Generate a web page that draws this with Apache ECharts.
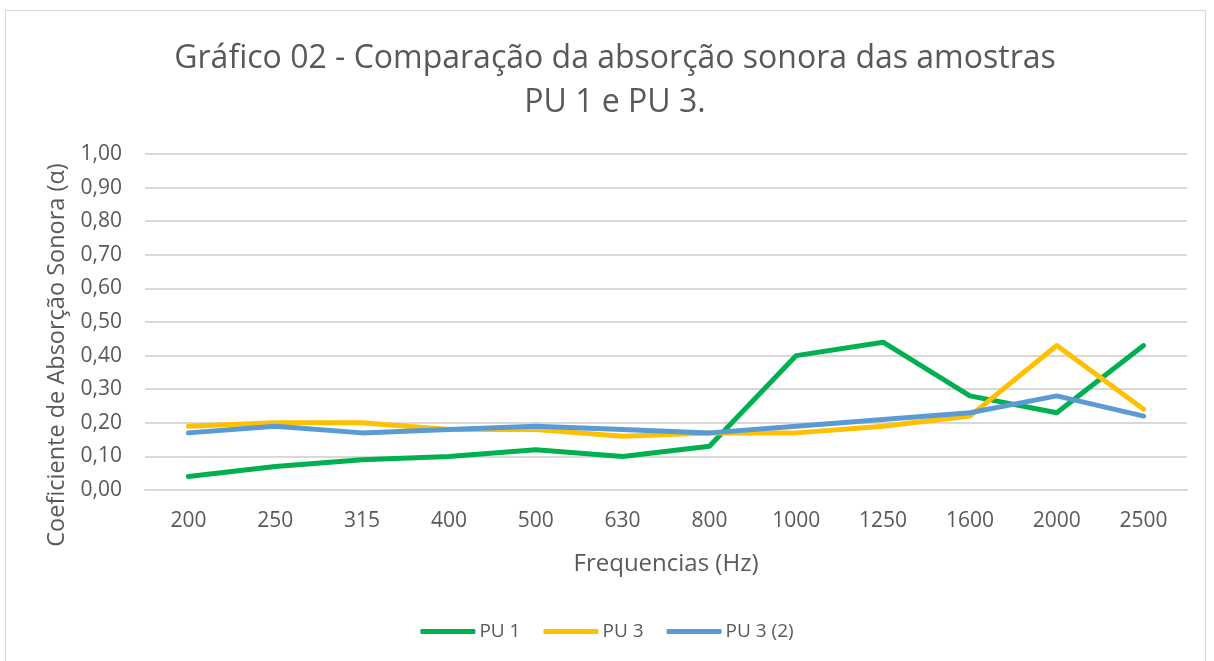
<!DOCTYPE html>
<html><head><meta charset="utf-8">
<script src="https://cdn.jsdelivr.net/npm/echarts@6/dist/echarts.min.js"></script>
<style>html,body{margin:0;padding:0;background:#fff}#c{width:1214px;height:661px}
#frame{position:absolute;left:5px;top:10px;width:1201px;height:660px;border:1px solid #d9d9d9;box-sizing:border-box;pointer-events:none}</style>
</head><body><div id="c"></div><div id="frame"></div>
<script>
const categories = ['200','250','315','400','500','630','800','1000','1250','1600','2000','2500'];
const pu1 = [0.04,0.07,0.09,0.10,0.12,0.10,0.13,0.40,0.44,0.28,0.23,0.43];
const pu3 = [0.19,0.20,0.20,0.18,0.18,0.16,0.17,0.17,0.19,0.22,0.43,0.24];
const pu3b = [0.17,0.19,0.17,0.18,0.19,0.18,0.17,0.19,0.21,0.23,0.28,0.22];
const seriesNames = ['PU 1','PU 3','PU 3 (2)'];
const colors = ['#00B050','#FFC000','#5B9BD5'];
const font = '"Open Sans", "Noto Sans", sans-serif';
const chart = echarts.init(document.getElementById('c'));
const mk = (name, data, color) => ({name, type:'line', data, symbol:'none', smooth:false,
  lineStyle:{width:5, color, cap:'round', join:'round'}, itemStyle:{color}});
chart.setOption({
  animation:false,
  title:{text:'Gráfico 02 - Comparação da absorção sonora das amostras\nPU 1 e PU 3.', left:610, textAlign:'center', top:32,
    textStyle:{fontFamily:font, fontWeight:'normal', fontSize:32, color:'#595959', lineHeight:44}},
  grid:{left:145, right:27, top:154, bottom:171},
  legend:{bottom:15, left:'center', itemWidth:55, itemHeight:5, itemGap:23,
    textStyle:{fontFamily:font, fontSize:19, color:'#595959', padding:[0,0,0,-1]},
    data:seriesNames.map((n,i)=>({name:n, icon:'roundRect', itemStyle:{color:colors[i]}}))},
  graphic:[{type:'text', x:57, y:355, rotation:Math.PI/2,
    style:{text:'Coeficiente de Absorção Sonora (α)', fontFamily:font, fontSize:23.5, fill:'#595959',
      align:'center', verticalAlign:'middle'}}],
  xAxis:{type:'category', data:categories, boundaryGap:true,
    name:'Frequencias (Hz)', nameLocation:'middle', nameGap:62,
    nameTextStyle:{fontFamily:font, fontSize:24, color:'#595959'},
    axisLine:{show:true, lineStyle:{color:'#d9d9d9', width:2}}, axisTick:{show:false},
    axisLabel:{fontFamily:font, fontSize:21, color:'#595959', margin:21}},
  yAxis:{type:'value', min:0, max:1, interval:0.1,
    axisLine:{show:false}, axisTick:{show:false},
    splitLine:{lineStyle:{color:'#d9d9d9', width:2}},
    axisLabel:{fontFamily:font, fontSize:21, color:'#595959', margin:23,
      formatter:v=>v.toFixed(2).replace('.',',')}},
  series:[mk(seriesNames[0],pu1,colors[0]), mk(seriesNames[1],pu3,colors[1]), mk(seriesNames[2],pu3b,colors[2])]
});
</script></body></html>
